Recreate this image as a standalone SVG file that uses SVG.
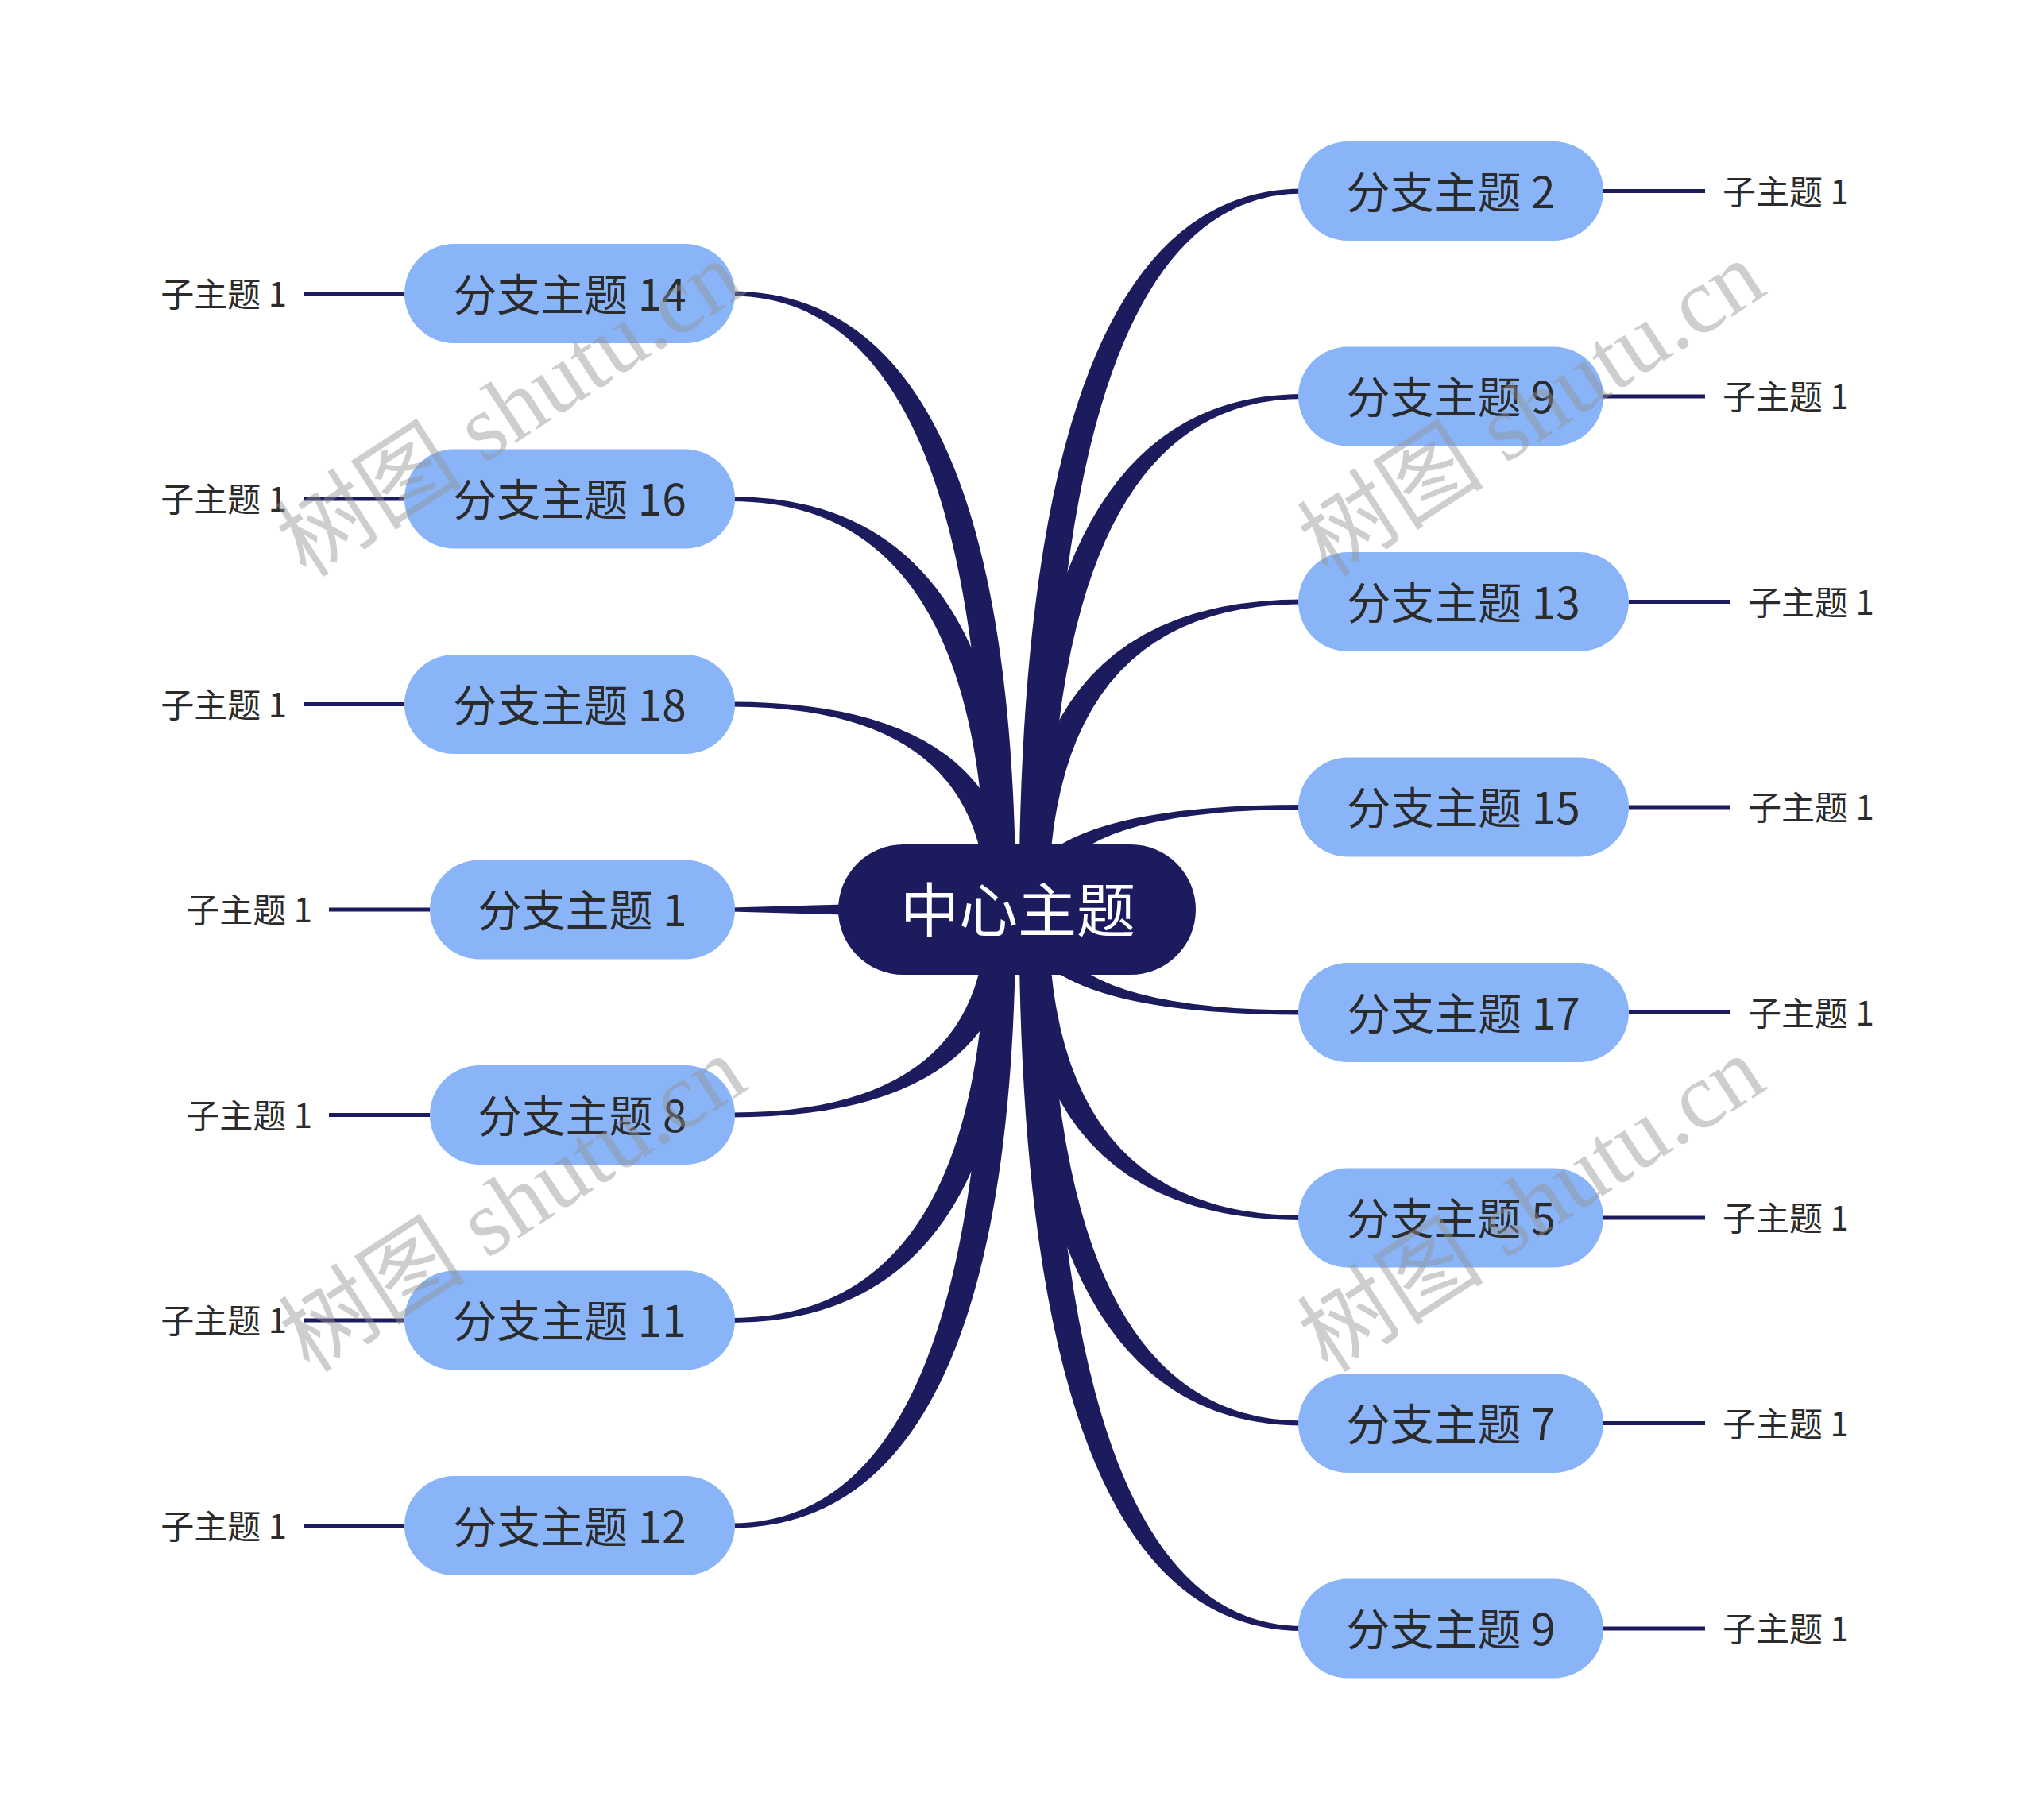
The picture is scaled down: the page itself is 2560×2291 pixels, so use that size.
<svg xmlns="http://www.w3.org/2000/svg" width="2560" height="2291" viewBox="0 0 2560 2291">
<style>
.conn{fill:#1c1b5d;stroke:none}
.sub{stroke:#1c1b5d;stroke-width:5;fill:none}
.branch rect{fill:#8ab4f8}
.bt{font-family:"Noto Sans CJK SC","Noto Sans",sans-serif;font-size:55px;fill:#2b2b2b;text-anchor:middle}
.st{font-family:"Noto Sans CJK SC","Noto Sans",sans-serif;font-size:42px;fill:#2b2b2b}
.ct{font-family:"Noto Sans CJK SC","Noto Sans",sans-serif;font-size:74px;fill:#ffffff;text-anchor:middle}
.wm{font-family:"Liberation Serif","Noto Sans CJK SC",serif;font-size:118px;fill:#949494;opacity:0.45;text-anchor:middle}
</style>
<rect width="2560" height="2291" fill="#ffffff"/>
<g id="connectors">
<path class="conn" d="M1282.5,1145 Q1282.5,237.5 1640,237.5 L1640,243.5 Q1319.5,243.5 1319.5,1145 Z"/>
<path class="conn" d="M1282.5,1145 Q1282.5,496 1640,496 L1640,502 Q1319.5,502 1319.5,1145 Z"/>
<path class="conn" d="M1282.5,1145 Q1282.5,754.5 1640,754.5 L1640,760.5 Q1319.5,760.5 1319.5,1145 Z"/>
<path class="conn" d="M1282.5,1145 Q1282.5,1013 1640,1013 L1640,1019 Q1319.5,1019 1319.5,1145 Z"/>
<path class="conn" d="M1282.5,1145 Q1282.5,1277.5 1640,1277.5 L1640,1271.5 Q1319.5,1271.5 1319.5,1145 Z"/>
<path class="conn" d="M1282.5,1145 Q1282.5,1536 1640,1536 L1640,1530 Q1319.5,1530 1319.5,1145 Z"/>
<path class="conn" d="M1282.5,1145 Q1282.5,1794.5 1640,1794.5 L1640,1788.5 Q1319.5,1788.5 1319.5,1145 Z"/>
<path class="conn" d="M1282.5,1145 Q1282.5,2053 1640,2053 L1640,2047 Q1319.5,2047 1319.5,1145 Z"/>
<path class="conn" d="M1278.5,1145 Q1278.5,366.5 920,366.5 L920,372.5 Q1241.5,372.5 1241.5,1145 Z"/>
<path class="conn" d="M1278.5,1145 Q1278.5,625 920,625 L920,631 Q1241.5,631 1241.5,1145 Z"/>
<path class="conn" d="M1278.5,1145 Q1278.5,883.5 920,883.5 L920,889.5 Q1241.5,889.5 1241.5,1145 Z"/>
<path class="conn" d="M920,1142.5 L1120,1137 L1120,1153 L920,1147.5 Z"/>
<path class="conn" d="M1278.5,1145 Q1278.5,1406.5 920,1406.5 L920,1400.5 Q1241.5,1400.5 1241.5,1145 Z"/>
<path class="conn" d="M1278.5,1145 Q1278.5,1665 920,1665 L920,1659 Q1241.5,1659 1241.5,1145 Z"/>
<path class="conn" d="M1278.5,1145 Q1278.5,1923.5 920,1923.5 L920,1917.5 Q1241.5,1917.5 1241.5,1145 Z"/>
<line class="sub" x1="2018" y1="240.5" x2="2146" y2="240.5"/>
<line class="sub" x1="2018" y1="499" x2="2146" y2="499"/>
<line class="sub" x1="2050" y1="757.5" x2="2178" y2="757.5"/>
<line class="sub" x1="2050" y1="1016" x2="2178" y2="1016"/>
<line class="sub" x1="2050" y1="1274.5" x2="2178" y2="1274.5"/>
<line class="sub" x1="2018" y1="1533" x2="2146" y2="1533"/>
<line class="sub" x1="2018" y1="1791.5" x2="2146" y2="1791.5"/>
<line class="sub" x1="2018" y1="2050" x2="2146" y2="2050"/>
<line class="sub" x1="509" y1="369.5" x2="382" y2="369.5"/>
<line class="sub" x1="509" y1="628" x2="382" y2="628"/>
<line class="sub" x1="509" y1="886.5" x2="382" y2="886.5"/>
<line class="sub" x1="541" y1="1145" x2="414" y2="1145"/>
<line class="sub" x1="541" y1="1403.5" x2="414" y2="1403.5"/>
<line class="sub" x1="509" y1="1662" x2="382" y2="1662"/>
<line class="sub" x1="509" y1="1920.5" x2="382" y2="1920.5"/>
</g>
<g id="center">
<rect x="1055" y="1063" width="450" height="164" rx="82" fill="#1c1b5d"/>
<text class="ct" x="1281" y="1173">中心主题</text>
</g>
<g id="b-r1" class="branch"><rect x="1634" y="178" width="384" height="125" rx="62.5"/><text class="bt" x="1826" y="261.5">分支主题 2</text></g>
<g id="b-r2" class="branch"><rect x="1634" y="436.5" width="384" height="125" rx="62.5"/><text class="bt" x="1826" y="520">分支主题 9</text></g>
<g id="b-r3" class="branch"><rect x="1634" y="695" width="416" height="125" rx="62.5"/><text class="bt" x="1842" y="778.5">分支主题 13</text></g>
<g id="b-r4" class="branch"><rect x="1634" y="953.5" width="416" height="125" rx="62.5"/><text class="bt" x="1842" y="1037">分支主题 15</text></g>
<g id="b-r5" class="branch"><rect x="1634" y="1212" width="416" height="125" rx="62.5"/><text class="bt" x="1842" y="1295.5">分支主题 17</text></g>
<g id="b-r6" class="branch"><rect x="1634" y="1470.5" width="384" height="125" rx="62.5"/><text class="bt" x="1826" y="1554">分支主题 5</text></g>
<g id="b-r7" class="branch"><rect x="1634" y="1729" width="384" height="125" rx="62.5"/><text class="bt" x="1826" y="1812.5">分支主题 7</text></g>
<g id="b-r8" class="branch"><rect x="1634" y="1987.5" width="384" height="125" rx="62.5"/><text class="bt" x="1826" y="2071">分支主题 9</text></g>
<g id="b-l1" class="branch"><rect x="509" y="307" width="416" height="125" rx="62.5"/><text class="bt" x="717" y="390.5">分支主题 14</text></g>
<g id="b-l2" class="branch"><rect x="509" y="565.5" width="416" height="125" rx="62.5"/><text class="bt" x="717" y="649">分支主题 16</text></g>
<g id="b-l3" class="branch"><rect x="509" y="824" width="416" height="125" rx="62.5"/><text class="bt" x="717" y="907.5">分支主题 18</text></g>
<g id="b-l4" class="branch"><rect x="541" y="1082.5" width="384" height="125" rx="62.5"/><text class="bt" x="733" y="1166">分支主题 1</text></g>
<g id="b-l5" class="branch"><rect x="541" y="1341" width="384" height="125" rx="62.5"/><text class="bt" x="733" y="1424.5">分支主题 8</text></g>
<g id="b-l6" class="branch"><rect x="509" y="1599.5" width="416" height="125" rx="62.5"/><text class="bt" x="717" y="1683">分支主题 11</text></g>
<g id="b-l7" class="branch"><rect x="509" y="1858" width="416" height="125" rx="62.5"/><text class="bt" x="717" y="1941.5">分支主题 12</text></g>
<g id="s-r1"><text class="st" x="2168" y="256.5">子主题 1</text></g>
<g id="s-r2"><text class="st" x="2168" y="515">子主题 1</text></g>
<g id="s-r3"><text class="st" x="2200" y="773.5">子主题 1</text></g>
<g id="s-r4"><text class="st" x="2200" y="1032">子主题 1</text></g>
<g id="s-r5"><text class="st" x="2200" y="1290.5">子主题 1</text></g>
<g id="s-r6"><text class="st" x="2168" y="1549">子主题 1</text></g>
<g id="s-r7"><text class="st" x="2168" y="1807.5">子主题 1</text></g>
<g id="s-r8"><text class="st" x="2168" y="2066">子主题 1</text></g>
<g id="s-l1"><text class="st" x="361" y="385.5" text-anchor="end">子主题 1</text></g>
<g id="s-l2"><text class="st" x="361" y="644" text-anchor="end">子主题 1</text></g>
<g id="s-l3"><text class="st" x="361" y="902.5" text-anchor="end">子主题 1</text></g>
<g id="s-l4"><text class="st" x="393" y="1161" text-anchor="end">子主题 1</text></g>
<g id="s-l5"><text class="st" x="393" y="1419.5" text-anchor="end">子主题 1</text></g>
<g id="s-l6"><text class="st" x="361" y="1678" text-anchor="end">子主题 1</text></g>
<g id="s-l7"><text class="st" x="361" y="1936.5" text-anchor="end">子主题 1</text></g>
<g id="watermark">
<text class="wm" x="641" y="555" transform="rotate(-33 641 514)">树图 shutu.cn</text>
<text class="wm" x="1927" y="555" transform="rotate(-33 1927 514)">树图 shutu.cn</text>
<text class="wm" x="645" y="1556" transform="rotate(-33 645 1515)">树图 shutu.cn</text>
<text class="wm" x="1927" y="1556" transform="rotate(-33 1927 1515)">树图 shutu.cn</text>
</g>
</svg>
